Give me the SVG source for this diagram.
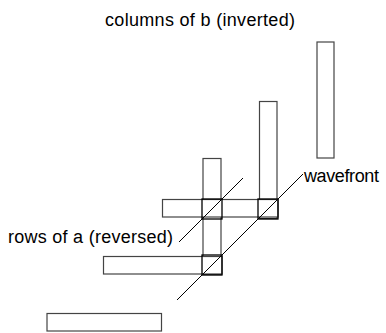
<svg xmlns="http://www.w3.org/2000/svg" width="386" height="333" viewBox="0 0 386 333">
<style>
.bar{fill:#fff;stroke:#444;stroke-width:1.2}
.cell{fill:none;stroke:#000;stroke-width:1.3}
.wave{stroke:#000;stroke-width:1;fill:none}
text{font-family:"Liberation Sans",Arial,sans-serif;font-size:18px;fill:#000}
</style>
<rect width="386" height="333" fill="#fff"/>
<g id="label-columns"><text x="105" y="26" textLength="190">columns of b (inverted)</text></g>
<g id="col-b3"><rect class="bar" x="317" y="42" width="17" height="116"/></g>
<g id="col-b2"><rect class="bar" x="259.5" y="101.5" width="17.5" height="117"/></g>
<g id="col-b1"><rect class="bar" x="203" y="158.5" width="18" height="116"/></g>
<g id="row-a1"><rect class="bar" x="162.5" y="199.5" width="115.5" height="17.5"/></g>
<g id="row-a2"><rect class="bar" x="103.5" y="256.5" width="118.5" height="17.5"/></g>
<g id="row-a3"><rect class="bar" x="47" y="313.5" width="114.5" height="17.5"/></g>
<g id="cell-1"><rect class="cell" x="202" y="199" width="20" height="20"/></g>
<g id="cell-2"><rect class="cell" x="258" y="199" width="20" height="20"/></g>
<g id="cell-3"><rect class="cell" x="202" y="255" width="20" height="20"/></g>
<g id="connectors">
<line class="wave" x1="243" y1="178" x2="179" y2="242"/>
<line class="wave" x1="303" y1="174" x2="177" y2="300"/>
</g>
<g id="label-wavefront"><text x="304" y="182" textLength="75">wavefront</text></g>
<g id="label-rows"><text x="8" y="243" textLength="165">rows of a (reversed)</text></g>
</svg>
